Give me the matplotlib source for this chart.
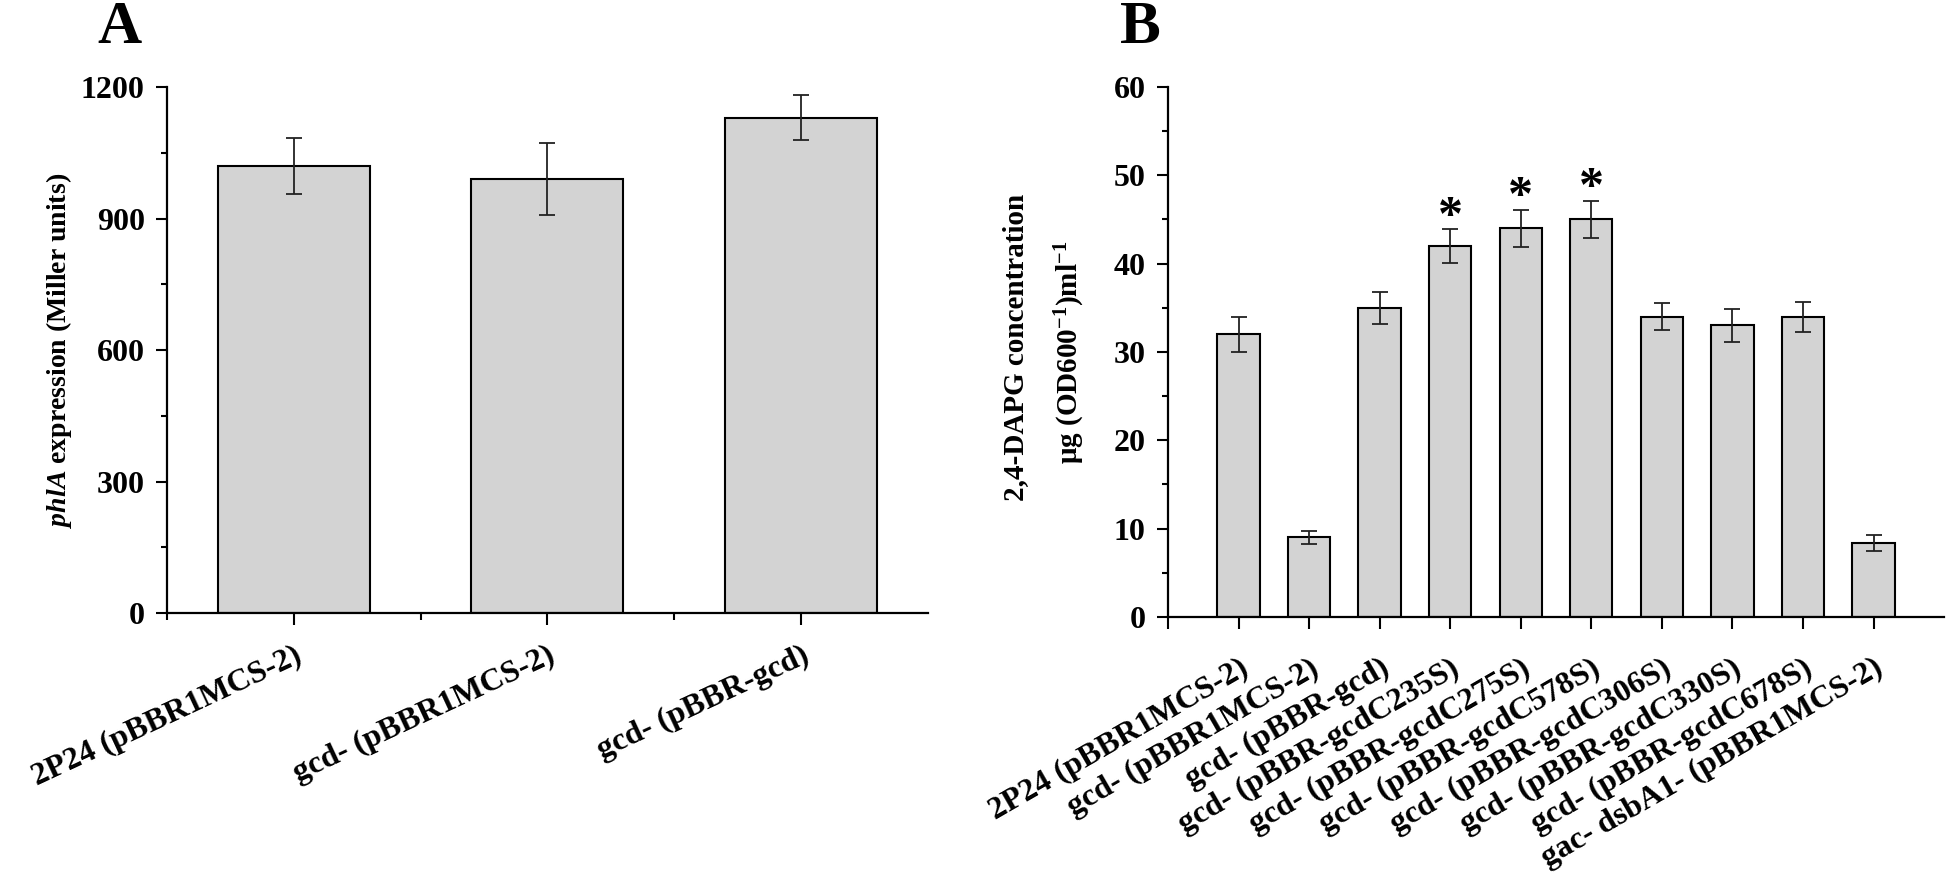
import numpy as np
import matplotlib.pyplot as plt
from matplotlib.ticker import MultipleLocator, FixedLocator

plt.rcParams['font.family'] = ['Liberation Serif', 'DejaVu Serif']
plt.rcParams['font.weight'] = 'bold'
plt.rcParams['axes.labelweight'] = 'bold'
plt.rcParams['mathtext.fontset'] = 'custom'
plt.rcParams['mathtext.rm'] = 'Liberation Serif:bold'
plt.rcParams['mathtext.it'] = 'Liberation Serif:italic:bold'
plt.rcParams['mathtext.bf'] = 'Liberation Serif:bold'

# panel A : phlA expression
strains_a = ['2P24 (pBBR1MCS-2)', 'gcd- (pBBR1MCS-2)', 'gcd- (pBBR-gcd)']
phla_mean = [1020, 990, 1130]
phla_err = [63, 82, 52]

# panel B : 2,4-DAPG production
strains_b = ['2P24 (pBBR1MCS-2)', 'gcd- (pBBR1MCS-2)', 'gcd- (pBBR-gcd)',
             'gcd- (pBBR-gcdC235S)', 'gcd- (pBBR-gcdC275S)', 'gcd- (pBBR-gcdC578S)',
             'gcd- (pBBR-gcdC306S)', 'gcd- (pBBR-gcdC330S)', 'gcd- (pBBR-gcdC678S)',
             'gac- dsbA1- (pBBR1MCS-2)']
dapg_mean = [32, 9, 35, 42, 44, 45, 34, 33, 34, 8.4]
dapg_err = [2.0, 0.7, 1.8, 1.9, 2.1, 2.1, 1.5, 1.9, 1.7, 0.9]
significant = [False, False, False, True, True, True, False, False, False, False]

bar_color = '#d3d3d3'

fig = plt.figure(figsize=(19.46, 8.77), dpi=100)
axA = fig.add_axes([0.0858, 0.301, 0.391, 0.5998])
axB = fig.add_axes([0.6002, 0.2965, 0.3988, 0.6043])


def style_axis(ax):
    for side in ['top', 'right']:
        ax.spines[side].set_visible(False)
    for side in ['left', 'bottom']:
        ax.spines[side].set_linewidth(1.6)
    ax.tick_params(axis='y', which='major', direction='out', length=8, width=1.5,
                   labelsize=23, pad=8)
    ax.tick_params(axis='y', which='minor', direction='out', length=4.5, width=1.5)
    ax.tick_params(axis='x', which='major', direction='out', length=8.5, width=1.5)
    ax.tick_params(axis='x', which='minor', direction='out', length=5, width=1.5)


# ---- A ----
xa = np.arange(len(strains_a))
axA.bar(xa, phla_mean, width=0.6, color=bar_color, edgecolor='black', linewidth=1.5, zorder=2)
axA.errorbar(xa, phla_mean, yerr=phla_err, fmt='none', ecolor='#222222',
             elinewidth=1.3, capsize=5.5, capthick=1.3, zorder=3)
axA.set_xlim(-0.5, 2.5)
axA.set_ylim(0, 1200)
axA.yaxis.set_major_locator(MultipleLocator(300))
axA.yaxis.set_minor_locator(MultipleLocator(150))
axA.set_xticks(xa)
axA.xaxis.set_minor_locator(FixedLocator([-0.5, 0.5, 1.5]))
style_axis(axA)
axA.set_xticklabels(strains_a, rotation=25, ha='right', va='top',
                    rotation_mode='anchor', fontsize=23)
axA.tick_params(axis='x', which='major', pad=12)
axA.set_ylabel('$phlA$ expression (Miller units)', fontsize=20, labelpad=5)

# ---- B ----
xb = np.arange(1, len(strains_b) + 1)
axB.bar(xb, dapg_mean, width=0.6, color=bar_color, edgecolor='black', linewidth=1.5, zorder=2)
axB.errorbar(xb, dapg_mean, yerr=dapg_err, fmt='none', ecolor='#222222',
             elinewidth=1.3, capsize=5.5, capthick=1.3, zorder=3)
for x, m, e, s in zip(xb, dapg_mean, dapg_err, significant):
    if s:
        axB.text(x, m + e - 1.3, '*', ha='center', va='bottom', fontsize=36, fontweight='bold')
axB.set_xlim(0, 11)
axB.set_ylim(0, 60)
axB.yaxis.set_major_locator(MultipleLocator(10))
axB.yaxis.set_minor_locator(MultipleLocator(5))
axB.set_xticks(xb)
axB.xaxis.set_minor_locator(FixedLocator([0]))
style_axis(axB)
axB.tick_params(axis='x', which='minor', length=8.5)
axB.set_xticklabels(strains_b, rotation=30, ha='right', va='top',
                    rotation_mode='anchor', fontsize=23)
axB.tick_params(axis='x', which='major', pad=18)

fig.text(1016 / 1946, 1 - 347 / 877, '2,4-DAPG concentration', rotation=90,
         ha='center', va='center', fontsize=21)
fig.text(1070 / 1946, 1 - 352 / 877, r'μg (OD600$^{-1}$)ml$^{-1}$', rotation=90,
         ha='center', va='center', fontsize=21)

# panel letters
fig.text(97 / 1946, 1 - 43 / 877, 'A', fontsize=44, fontweight='bold', va='baseline')
fig.text(1120 / 1946, 1 - 43 / 877, 'B', fontsize=44, fontweight='bold', va='baseline')

fig.savefig('out.png', dpi=100)
